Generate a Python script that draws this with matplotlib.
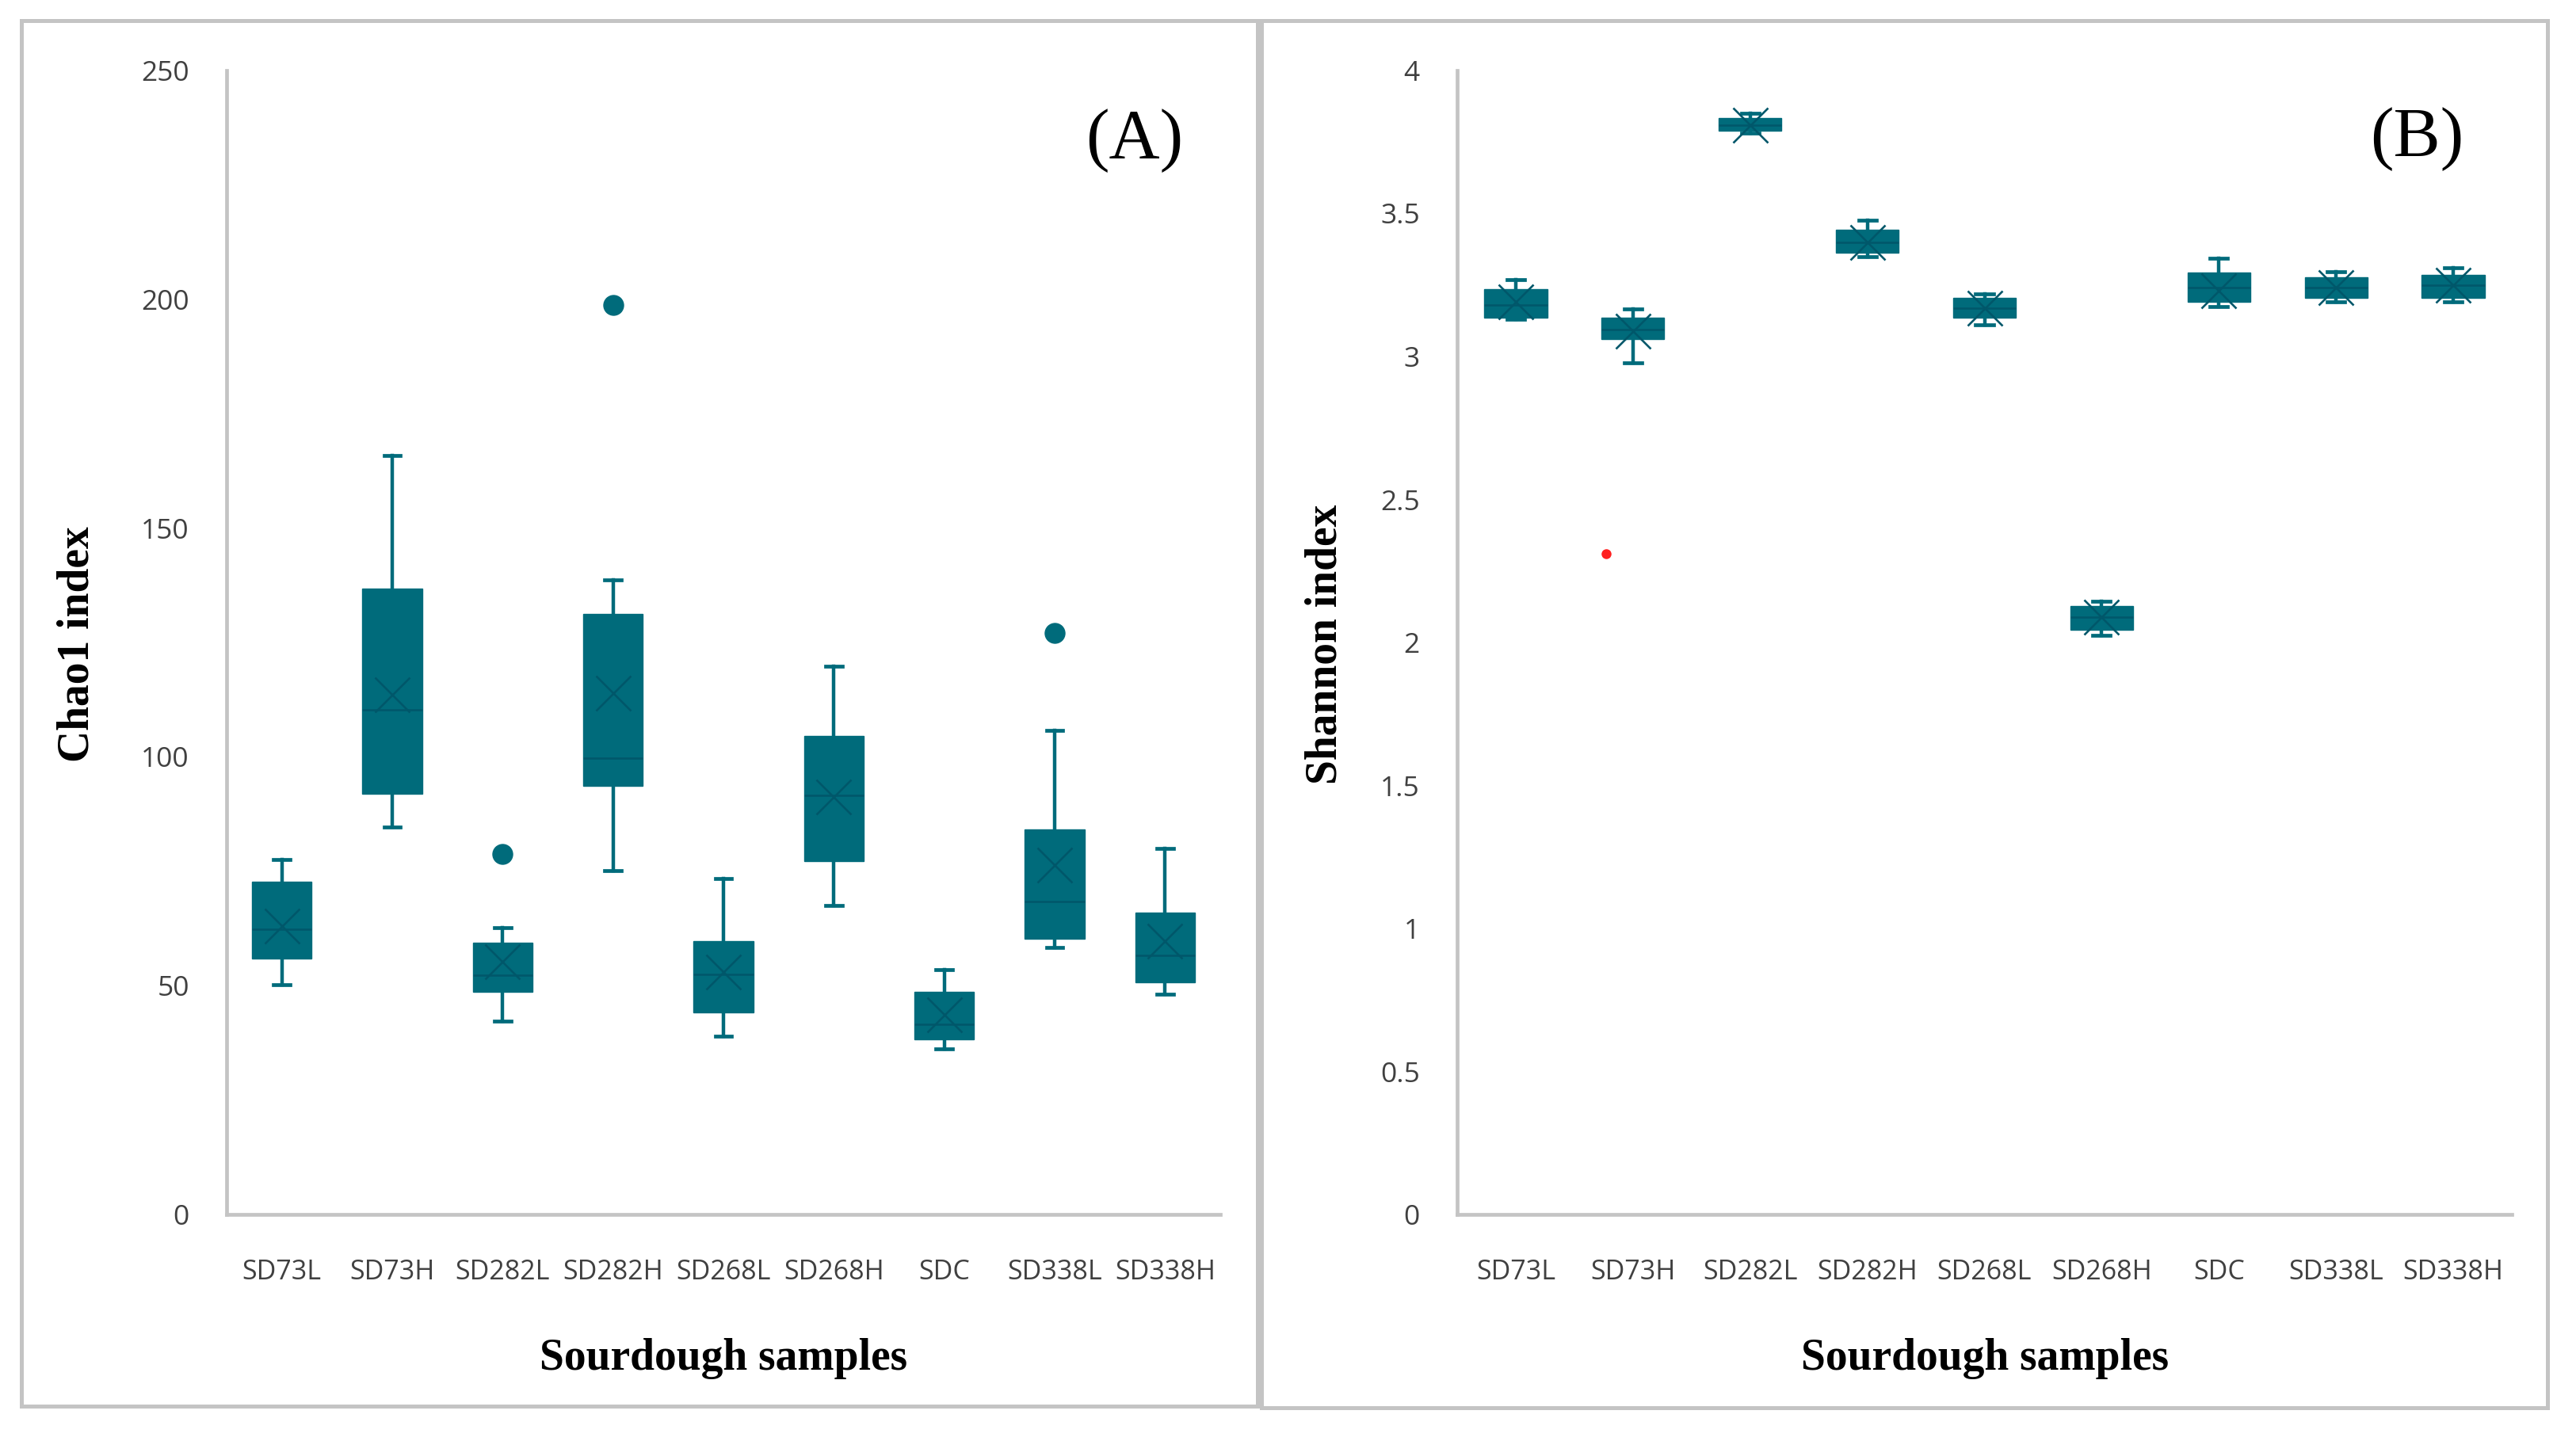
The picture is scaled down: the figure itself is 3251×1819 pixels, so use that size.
import matplotlib
matplotlib.use("Agg")
import matplotlib.pyplot as plt
from matplotlib.patches import Rectangle
from matplotlib.path import Path

# ---------------- data ----------------
categories = ['SD73L', 'SD73H', 'SD282L', 'SD282H', 'SD268L', 'SD268H', 'SDC', 'SD338L', 'SD338H']

chao_whislo = [50.2, 84.6, 42.2, 75.2, 39.0, 67.5, 36.2, 58.3, 48.2]
chao_q1     = [55.9, 92.0, 48.6, 93.6, 44.2, 77.2, 38.2, 60.3, 50.8]
chao_med    = [62.3, 110.3, 52.2, 99.7, 52.5, 91.6, 41.6, 68.3, 56.7]
chao_q3     = [72.7, 136.7, 59.3, 131.2, 59.7, 104.5, 48.6, 84.2, 65.9]
chao_whishi = [77.6, 165.8, 62.7, 138.7, 73.4, 119.8, 53.5, 105.7, 80.0]
chao_mean   = [63.0, 113.6, 55.2, 114.0, 53.0, 91.2, 43.6, 76.4, 59.7]
chao_fliers = [[], [], [78.8], [198.8], [], [], [], [127.0], []]

sh_whislo = [3.13, 2.977, 3.78, 3.35, 3.11, 2.026, 3.174, 3.19, 3.19]
sh_q1     = [3.135, 3.06, 3.79, 3.363, 3.135, 2.045, 3.19, 3.206, 3.206]
sh_med    = [3.18, 3.093, 3.81, 3.40, 3.17, 2.09, 3.24, 3.24, 3.25]
sh_q3     = [3.235, 3.135, 3.835, 3.444, 3.206, 2.128, 3.293, 3.277, 3.286]
sh_whishi = [3.27, 3.167, 3.85, 3.476, 3.22, 2.145, 3.344, 3.296, 3.31]
sh_mean   = [3.19, 3.09, 3.81, 3.40, 3.17, 2.09, 3.23, 3.24, 3.25]
sh_fliers = [[], [], [], [], [], [], [], [], []]

# stray red point in panel B
red_cat = 'SD73H'
red_value = 2.31
red_offset = -0.23

chao_ticks = [0, 50, 100, 150, 200, 250]
sh_ticks = [0, 0.5, 1, 1.5, 2, 2.5, 3, 3.5, 4]
sh_ticklabels = ['0', '0.5', '1', '1.5', '2', '2.5', '3', '3.5', '4']

# ---------------- style ----------------
W, H = 3251, 1819
DPI = 100
TEAL = '#006B7B'
DARK = '#00576A'
GRAY = '#C4C4C4'
TICKC = '#404040'

fig = plt.figure(figsize=(W / DPI, H / DPI), dpi=DPI)
fig.patch.set_facecolor('white')

def fx(px):
    return px / W

def fy(py):
    return 1 - py / H

# panel borders
lw_border = 3.6
fig.add_artist(Rectangle((fx(27), fy(1775)), fx(1587) - fx(27), fy(26) - fy(1775),
                         transform=fig.transFigure, fill=False, ec=GRAY, lw=lw_border))
fig.add_artist(Rectangle((fx(1592), fy(1777)), fx(3215) - fx(1592), fy(26) - fy(1777),
                         transform=fig.transFigure, fill=False, ec=GRAY, lw=lw_border))

ax1 = fig.add_axes([fx(286), fy(1533), fx(1540) - fx(286), fy(89) - fy(1533)])
ax2 = fig.add_axes([fx(1839), fy(1533), fx(3170) - fx(1839), fy(89) - fy(1533)])

xmark = 'x'

def make_stats(lo, q1, med, q3, hi, mean, fl):
    out = []
    for i in range(len(lo)):
        out.append(dict(whislo=lo[i], q1=q1[i], med=med[i], q3=q3[i], whishi=hi[i],
                        mean=mean[i], fliers=fl[i], label=categories[i]))
    return out

def draw(ax, stats, width, capw):
    pos = list(range(len(categories)))
    ax.bxp(stats, positions=pos, widths=width, capwidths=capw, patch_artist=True,
           showmeans=True, showfliers=True,
           boxprops=dict(facecolor=TEAL, edgecolor=TEAL, linewidth=1.0),
           whiskerprops=dict(color=TEAL, linewidth=3.2),
           capprops=dict(color=TEAL, linewidth=3.4),
           medianprops=dict(color=DARK, linewidth=1.8),
           meanprops=dict(marker=xmark, markersize=31, markeredgecolor=DARK,
                          markeredgewidth=1.9, markerfacecolor=DARK),
           flierprops=dict(marker='o', markersize=18, markerfacecolor=TEAL,
                           markeredgecolor=TEAL))
    ax.set_xlim(-0.5, len(categories) - 0.5)
    ax.set_xticks(pos)
    ax.set_xticklabels(categories, fontsize=24.5, color=TICKC, family='Open Sans')
    for s in ['top', 'right']:
        ax.spines[s].set_visible(False)
    for s in ['left', 'bottom']:
        ax.spines[s].set_color(GRAY)
        ax.spines[s].set_linewidth(3.4)
    ax.tick_params(axis='both', length=0)
    ax.tick_params(axis='x', pad=40)
    ax.tick_params(axis='y', pad=34)
    ax.set_facecolor('white')

draw(ax1, make_stats(chao_whislo, chao_q1, chao_med, chao_q3, chao_whishi, chao_mean, chao_fliers),
     0.54, 0.15)
ax1.set_ylim(0, 250)
ax1.set_yticks(chao_ticks)
ax1.set_yticklabels([str(t) for t in chao_ticks], fontsize=25.5, color=TICKC, family='Open Sans')

draw(ax2, make_stats(sh_whislo, sh_q1, sh_med, sh_q3, sh_whishi, sh_mean, sh_fliers),
     0.535, 0.15)
ax2.set_ylim(0, 4)
ax2.set_yticks(sh_ticks)
ax2.set_yticklabels(sh_ticklabels, fontsize=25.5, color=TICKC, family='Open Sans')
ax2.plot([categories.index(red_cat) + red_offset], [red_value], 'o', color='#FF2020',
         markersize=9, markeredgewidth=0, zorder=5)

# labels
serif = ['Liberation Serif', 'DejaVu Serif']
fig.text(fx(913), fy(1715), 'Sourdough samples', ha='center', va='center',
         fontsize=40, fontweight='bold', family=serif)
fig.text(fx(2505), fy(1715), 'Sourdough samples', ha='center', va='center',
         fontsize=40, fontweight='bold', family=serif)
fig.text(fx(98), fy(813), 'Chao1 index', ha='center', va='center', rotation=90,
         fontsize=40, fontweight='bold', family=serif)
fig.text(fx(1672), fy(813), 'Shannon index', ha='center', va='center', rotation=90,
         fontsize=40, fontweight='bold', family=serif)
fig.text(fx(1432), fy(178), '(A)', ha='center', va='center', fontsize=64, family=serif)
fig.text(fx(3050), fy(176), '(B)', ha='center', va='center', fontsize=64, family=serif)

fig.savefig('out.png', dpi=DPI, facecolor='white')
